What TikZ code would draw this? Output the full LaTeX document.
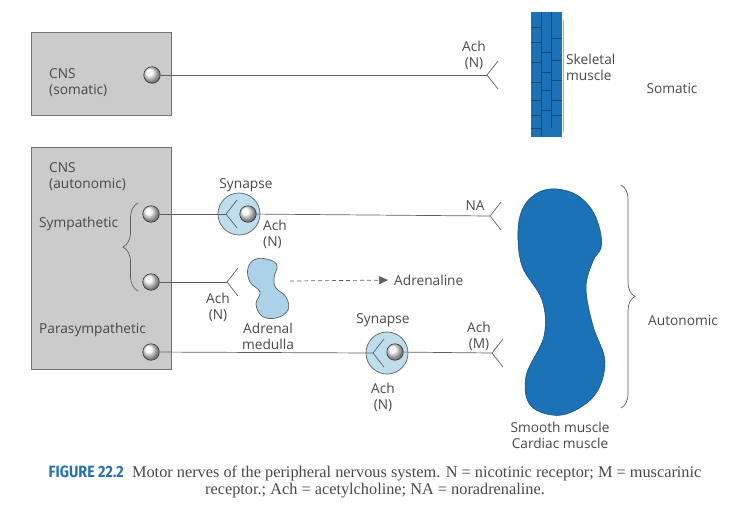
\documentclass[tikz,border=0pt]{standalone}
\usepackage{fontspec}
\setmainfont{Liberation Serif}
\setsansfont{Open Sans}
\newfontfamily\capfont[FakeStretch=0.88]{Fira Sans}
\usetikzlibrary{arrows.meta,decorations.pathreplacing}
\definecolor{inkgray}{RGB}{72,72,72}
\definecolor{linegray}{RGB}{95,95,95}
\definecolor{boxgray}{RGB}{203,203,203}
\definecolor{muscleblue}{RGB}{27,114,182}
\definecolor{brickblue}{RGB}{20,72,120}
\definecolor{synblue}{RGB}{190,222,238}
\definecolor{adrblue}{RGB}{172,210,234}
\definecolor{capblue}{RGB}{40,112,178}

\begin{document}
\begin{tikzpicture}[x=1pt, y=-1pt,
    every node/.style={font=\sffamily\fontsize{13.7}{16}\selectfont, text=inkgray, inner sep=0pt},
    cns/.style={draw=black!55, fill=boxgray, line width=0.6pt},
    ball/.style={circle, minimum size=16.5pt, draw=black!80, line width=0.6pt, shading=ball, ball color=white!94!gray},
    synapse/.style={circle, minimum size=42pt, draw=linegray, fill=synblue, line width=0.7pt},
    nerve/.style={draw=linegray, line width=0.7pt},
    brick/.style={draw=brickblue, line width=0.5pt}]
\useasboundingbox (0,0) rectangle (751,523);

% CNS boxes
\draw[cns] (31,32) rectangle (171,115);
\draw[cns] (31,147) rectangle (171,369);
\node[anchor=west, align=left] (cnsS) at (49,83) {CNS\\(somatic)};
\node[anchor=west, align=left] (cnsA) at (49,177) {CNS\\(autonomic)};
\node[anchor=west] (symp) at (39,224) {Sympathetic};
\node[anchor=west] (para) at (39,330) {Parasympathetic};
\draw[linegray, line width=0.7pt, decorate, decoration={brace, amplitude=15pt}] (138,291) -- (138,203);

% synapses and adrenal medulla
\node[synapse] (syn1) at (239,214) {};
\node[synapse] (syn2) at (387,353) {};
\filldraw[draw=linegray, fill=adrblue, line width=0.7pt] plot[smooth cycle, tension=0.7] coordinates {(248,268) (250,282) (260,292) (256,304) (262,316) (276,318) (288,310) (286,297) (276,288) (274,278) (277,266) (270,260) (256,259)};
\node (adrlbl) at (268,336) [align=center] {Adrenal\\medulla};

% nerve endings
\coordinate (endS) at (487,75);
\coordinate (endNA) at (490,216);
\coordinate (endM) at (492,353);
\coordinate (endA) at (227,282);
\coordinate (in1) at (226,214);
\coordinate (in2) at (373,353);
\foreach \f in {endS,endNA,endM,endA,in1,in2}
  \draw[nerve] (\f) ++(11,-14) -- (\f) -- ++(11,14);

% neurons
\node[ball] (b0) at (152,75) {};
\node[ball] (b1) at (151,214) {};
\node[ball] (b2) at (151,282) {};
\node[ball] (b3) at (151,352) {};
\node[ball] (s1) at (248,214) {};
\node[ball] (s2) at (395,352) {};
\draw[nerve] (b0) -- (endS);
\draw[nerve] (b1) -- (in1);
\draw[nerve] (s1) -- (endNA);
\draw[nerve] (b2) -- (endA);
\draw[nerve] (b3) -- (in2);
\draw[nerve] (s2) -- (endM);

% adrenaline
\node[anchor=west] (adr) at (394,280) {Adrenaline};
\coordinate (adrout) at (290,281);
\draw[nerve, dash pattern=on 4pt off 3pt, shorten >=6pt, -{Triangle[length=9pt, width=8pt]}] (adrout) -- (adr.west);

% skeletal muscle
\fill[muscleblue] (531,12) rectangle (562,137);
\draw[brick] (541,12) -- (541,137) (551,12) -- (551,128);
\foreach \y in {27,42,62,82,100,115,128} \draw[brick] (531,\y) -- (541,\y);
\foreach \y in {52,72,90,110} \draw[brick] (541,\y) -- (551,\y);
\foreach \y in {38,60,80,100,115} \draw[brick] (551,\y) -- (562,\y);
\draw[black!30, line width=0.4pt] (563,20) -- (563,132);

% smooth / cardiac muscle
\filldraw[fill=muscleblue, draw=brickblue, line width=0.5pt] plot[smooth cycle, tension=0.6] coordinates {(518,230) (524,206) (539,192) (557,189) (577,195) (592,210) (600,230) (601,248) (593,261) (586,288) (593,326) (605,362) (594,396) (562,415) (531,406) (526,376) (544,336) (542,300) (522,266)};
\draw[linegray, line width=0.7pt, decorate, decoration={brace, amplitude=14pt}] (621,185) -- (621,408);

% labels
\node[align=center] (achS) at (474,55) {Ach\\(N)};
\node[anchor=west, align=left] (skel) at (566,67) {Skeletal\\muscle};
\node (som) at (672,89) {Somatic};
\node (syn1lbl) at (246,185) {Synapse};
\node[anchor=west, align=left] (ach1) at (263,234) {Ach\\(N)};
\node (na) at (475,206) {NA};
\node[align=center] (ach2) at (218,307) {Ach\\(N)};
\node (syn2lbl) at (383,320) {Synapse};
\node[align=center] (ach3) at (383,397) {Ach\\(N)};
\node[align=center] (ach4) at (479,336) {Ach\\(M)};
\node (auto) at (683,321) {Autonomic};
\node[align=center] (smooth) at (560,435) {Smooth muscle\\Cardiac muscle};

% caption
\node[font=\rmfamily\fontsize{16.3}{17}\selectfont, align=center] (cap) at (375,482)
  {{\capfont\bfseries\color{capblue}FIGURE 22.2}\enspace Motor nerves of the peripheral nervous system. N = nicotinic receptor; M = muscarinic\\receptor.; Ach = acetylcholine; NA = noradrenaline.};
\end{tikzpicture}
\end{document}
